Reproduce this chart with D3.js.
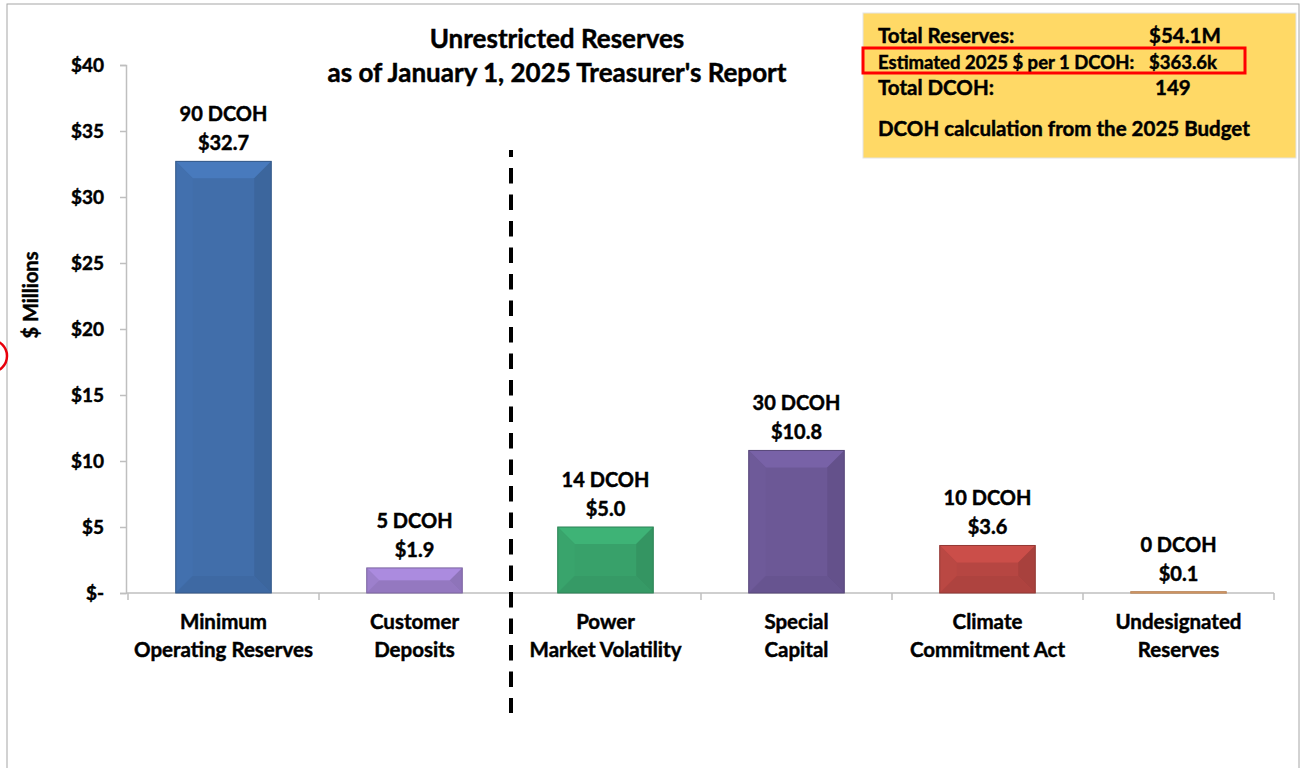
<!DOCTYPE html>
<html><head><meta charset="utf-8">
<script src="https://cdn.jsdelivr.net/npm/d3@7"></script>
<style>
body{margin:0;background:#fff;}
svg{display:block;font-family:Lato,"Noto Sans",sans-serif;font-weight:bold;}
svg text{stroke:#000;stroke-width:0.45px;paint-order:stroke;}
</style></head>
<body>
<svg id="c" width="1304" height="768"></svg>
<script>
const categories = [["Minimum","Operating Reserves"],["Customer","Deposits"],["Power","Market Volatility"],["Special","Capital"],["Climate","Commitment Act"],["Undesignated","Reserves"]];
const values = [32.7, 1.9, 5.0, 10.8, 3.6, 0.1];
const dcoh = [90, 5, 14, 30, 10, 0];
const colors = ["#416EAA","#9A7DC8","#38A16A","#6C5896","#B64642","#E4A36C"];
const yTicks = [0,5,10,15,20,25,30,35,40];
const infoLines = [["Total Reserves:","$54.1M"],["Estimated 2025 $ per 1 DCOH:","$363.6k"],["Total DCOH:","149"],["DCOH calculation from the 2025 Budget",""]];
const titleLines = ["Unrestricted Reserves","as of January 1, 2025 Treasurer's Report"];

const svg = d3.select("#c");
svg.append("rect").attr("x",7).attr("y",4).attr("width",1292).attr("height",780).attr("fill","none").attr("stroke","#A6A6A6").attr("stroke-width",1);
svg.append("circle").attr("cx",-9).attr("cy",356).attr("r",16).attr("fill","none").attr("stroke","#E8000B").attr("stroke-width",2.5);

const x = d3.scaleBand().domain(d3.range(categories.length)).range([128,1274]).paddingInner(0.5).paddingOuter(0.25);
const y = d3.scaleLinear().domain([0,40]).range([593,65]);

const yAxis = d3.axisLeft(y).tickValues(yTicks).tickSize(6).tickFormat(d=> d===0 ? "$-" : "$"+d);
const gy = svg.append("g").attr("transform","translate(126,0)").call(yAxis);
gy.select(".domain").attr("stroke","#BFBFBF").attr("stroke-width",1.5);
gy.selectAll(".tick line").attr("stroke","#BFBFBF").attr("stroke-width",1.5);
gy.selectAll(".tick text").attr("x",-22).attr("dy","0.35em").attr("font-size",19).attr("font-weight","bold").attr("fill","#000").attr("font-family","Lato");

const xb = d3.scaleLinear().domain([0,categories.length]).range([128,1274]);
svg.append("line").attr("x1",126).attr("x2",1274).attr("y1",593).attr("y2",593).attr("stroke","#BFBFBF").attr("stroke-width",1.5);
svg.selectAll(".xtick").data(d3.range(categories.length+1)).enter().append("line")
  .attr("x1",d=>xb(d)).attr("x2",d=>xb(d)).attr("y1",593).attr("y2",600).attr("stroke","#BFBFBF").attr("stroke-width",1.5);

categories.forEach((c,i)=>{
  const cx = x(i)+x.bandwidth()/2;
  c.forEach((t,j)=>{
    svg.append("text").attr("x",cx).attr("y",629+j*28).attr("text-anchor","middle").attr("font-size",20.5).text(t);
  });
});

function shade(col,k){ const c=d3.color(col); return k>0 ? c.brighter(k).formatHex() : c.darker(-k).formatHex(); }
values.forEach((v,i)=>{
  const x0 = x(i), w = x.bandwidth(), x1 = x0+w;
  const y0 = y(v), y1 = y(0);
  const h = y1-y0;
  const b = Math.min(17, h/2, w/2);
  const g = svg.append("g");
  const col = colors[i];
  g.append("rect").attr("x",x0).attr("y",y0).attr("width",w).attr("height",h).attr("fill",col);
  if (h>3){
    g.append("polygon").attr("points",[[x0,y0],[x1,y0],[x1-b,y0+b],[x0+b,y0+b]].join(" ")).attr("fill",shade(col,0.3));
    g.append("polygon").attr("points",[[x0,y0],[x0+b,y0+b],[x0+b,y1-b],[x0,y1]].join(" ")).attr("fill",shade(col,0.06));
    g.append("polygon").attr("points",[[x1,y0],[x1-b,y0+b],[x1-b,y1-b],[x1,y1]].join(" ")).attr("fill",shade(col,-0.22));
    g.append("polygon").attr("points",[[x0,y1],[x0+b,y1-b],[x1-b,y1-b],[x1,y1]].join(" ")).attr("fill",shade(col,-0.12));
  }
  g.append("rect").attr("x",x0).attr("y",y0).attr("width",w).attr("height",Math.max(h,1.5)).attr("fill","none").attr("stroke",shade(col,-0.6)).attr("stroke-width",1);
  const cx = x0+w/2;
  svg.append("text").attr("x",cx).attr("y",y0-40).attr("text-anchor","middle").attr("font-size",20).text(dcoh[i]+" DCOH");
  svg.append("text").attr("x",cx).attr("y",y0-11).attr("text-anchor","middle").attr("font-size",20).text("$"+d3.format(".1f")(v));
});

svg.append("line").attr("x1",511).attr("x2",511).attr("y1",150).attr("y2",713).attr("stroke","#000").attr("stroke-width",4).attr("stroke-dasharray","15.5 11").attr("stroke-dashoffset",8.5);

titleLines.forEach((t,i)=>{
  svg.append("text").attr("x",557).attr("y",48+i*34).attr("text-anchor","middle").attr("font-size",26).text(t);
});

svg.append("text").attr("transform","translate(38,295) rotate(-90)").attr("text-anchor","middle").attr("font-size",20).text("$ Millions");

svg.append("rect").attr("x",863).attr("y",13).attr("width",433).attr("height",145).attr("fill","#FFD966").attr("stroke","#E3E3E3").attr("stroke-width",1);
const infoY = [43,69,95,136];
const infoSize = [20.5,18.5,20.5,20.5];
infoLines.forEach((l,i)=>{
  svg.append("text").attr("x",878).attr("y",infoY[i]).attr("font-size",infoSize[i]).text(l[0]);
  if (l[1]) svg.append("text").attr("x",i===2?1155:1149).attr("y",infoY[i]).attr("font-size",infoSize[i]).text(l[1]);
});
svg.append("rect").attr("x",863).attr("y",48).attr("width",382).attr("height",25).attr("fill","none").attr("stroke","#FF0000").attr("stroke-width",3);
</script>
</body></html>
